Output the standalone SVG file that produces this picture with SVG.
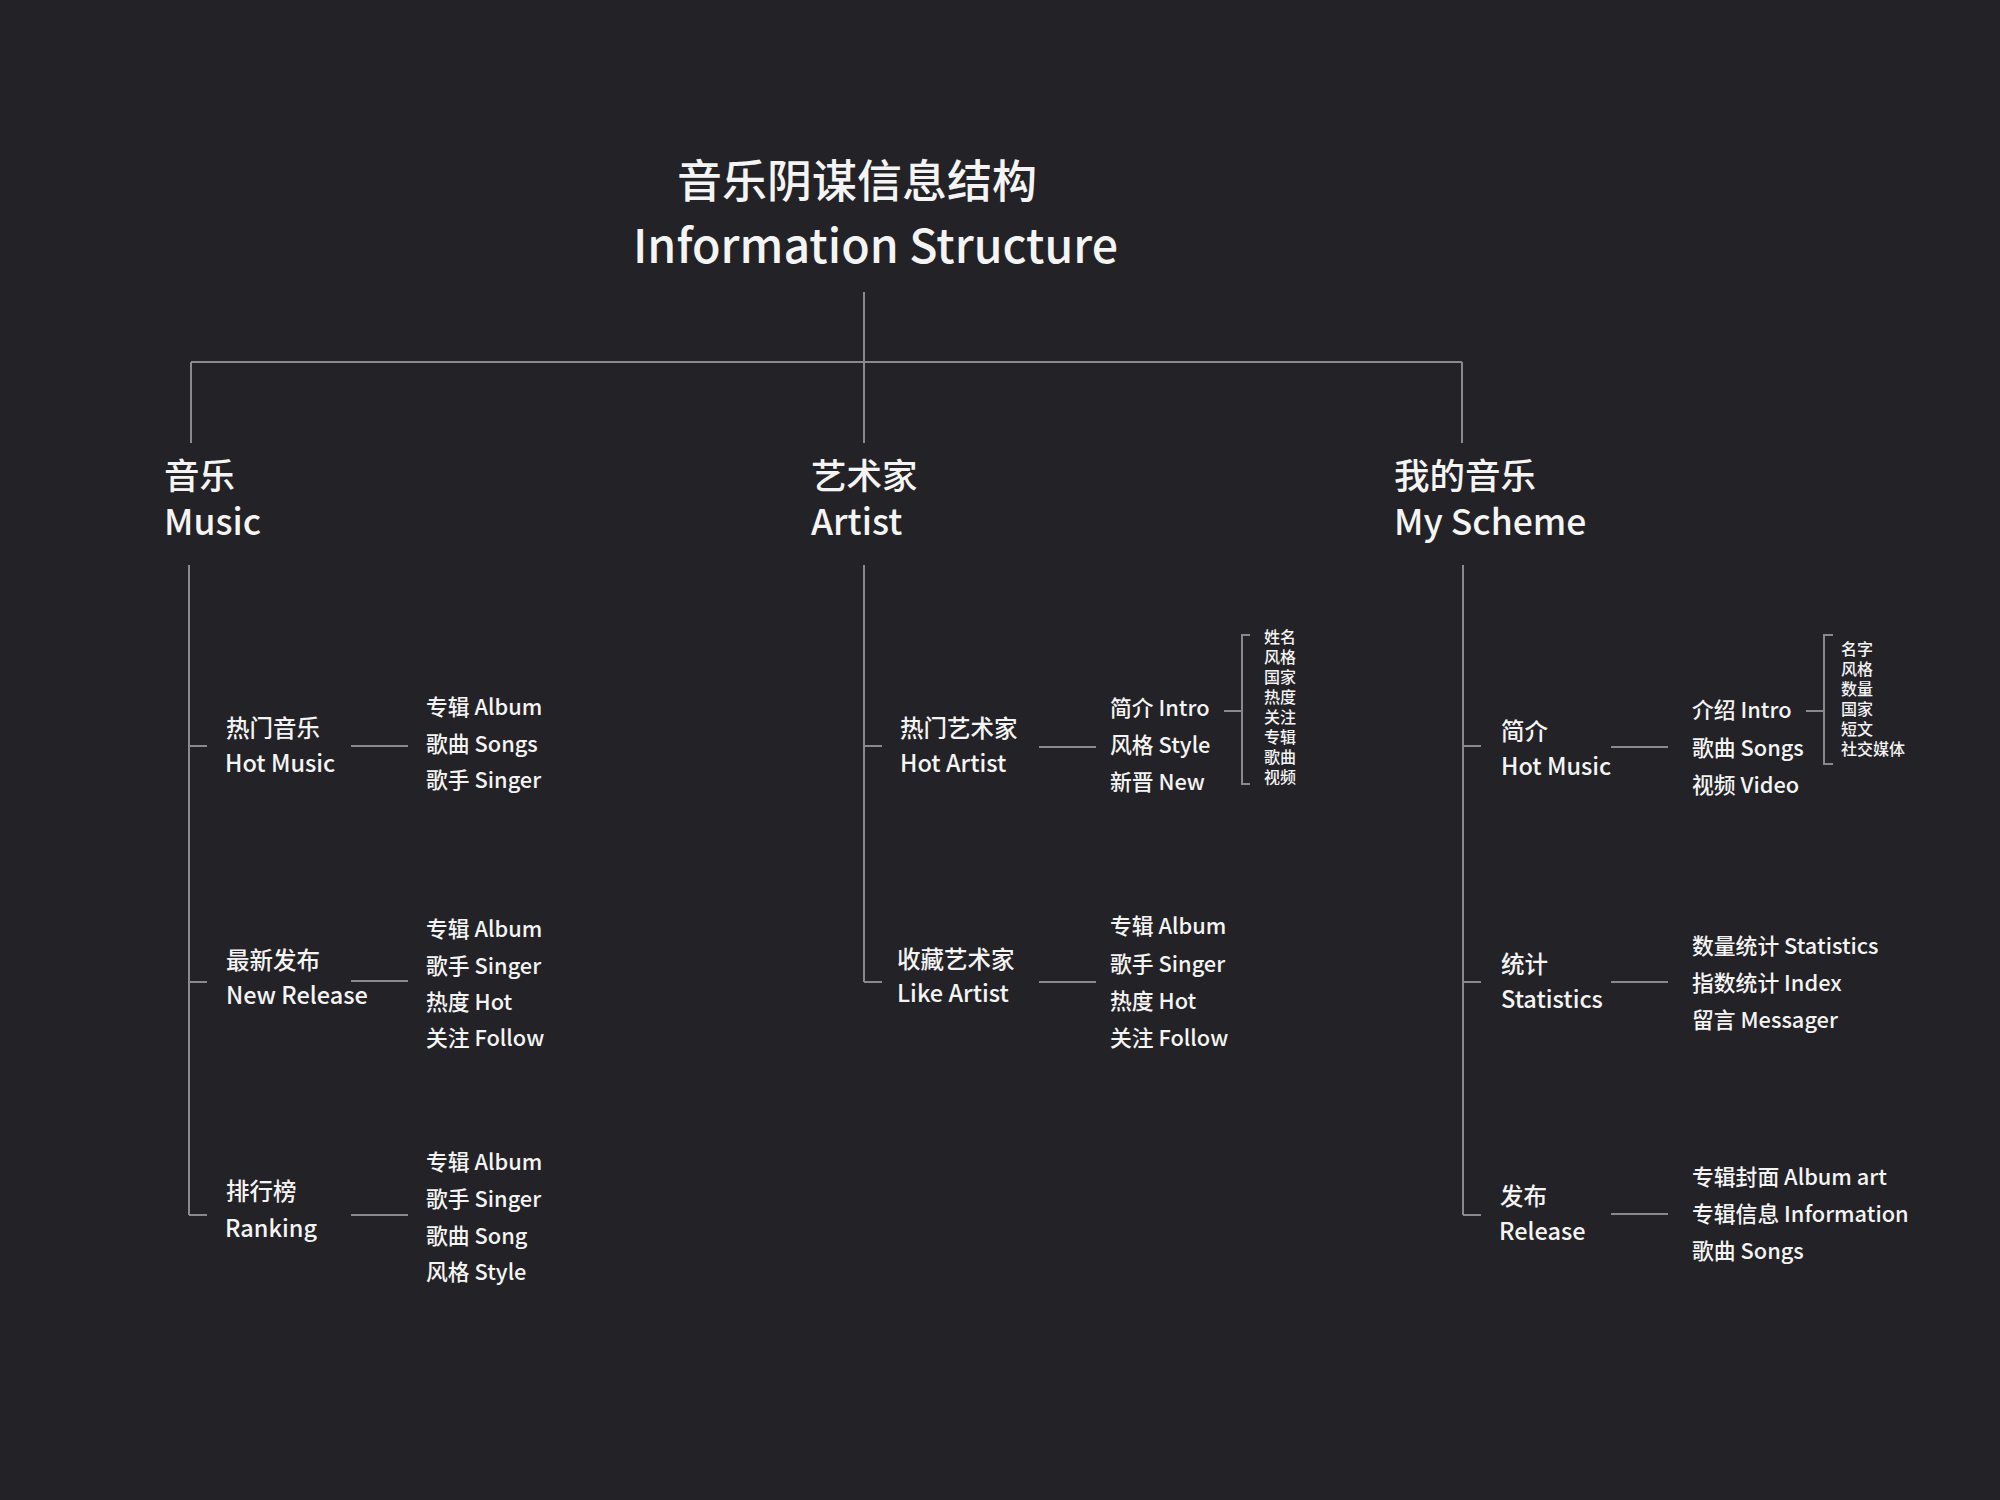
<svg xmlns="http://www.w3.org/2000/svg" width="2000" height="1500" viewBox="0 0 2000 1500">
<style>
text{font-family:"Noto Sans CJK SC","Noto Sans",sans-serif;fill:#f4f4f4;font-weight:500}
.t1{font-size:45px}
.t2{font-size:46.5px}
.h{font-size:35.5px}
.n{font-size:23.5px}
.s{font-size:21.8px}
.x{font-size:16px}
.ln{stroke:#8a8a8a;stroke-width:2;fill:none}
</style>
<rect width="2000" height="1500" fill="#232227"/>
<g id="connectors" class="ln">
<path d="M864 292V362M191 362H1462M191 362V443M864 362V443M1462 362V443"/>
<path d="M189 565V1215M189 746H207M189 982H207M189 1215H207"/>
<path d="M351 746H408M351 981H408M351 1215H408"/>
<path d="M864 565V982M864 746H882M864 982H882"/>
<path d="M1039 747H1096M1039 982H1096"/>
<path d="M1224 711H1242M1250 635H1242V784H1250"/>
<path d="M1463 565V1215M1463 746H1481M1463 982H1481M1463 1215H1481"/>
<path d="M1611 747H1668M1611 982H1668M1611 1214H1668"/>
<path d="M1806 711H1824M1833 635H1824V764H1833"/>
</g>
<g id="title">
<text class="t1" x="677" y="198">音乐阴谋信息结构</text>
<text class="t2" x="633" y="263">Information Structure</text>
</g>
<g id="music">
<text class="h" x="164" y="489">音乐</text>
<text class="h" x="164" y="535">Music</text>
</g>
<g id="artist">
<text class="h" x="811" y="489">艺术家</text>
<text class="h" x="811" y="535">Artist</text>
</g>
<g id="myscheme">
<text class="h" x="1394" y="489">我的音乐</text>
<text class="h" x="1394" y="535">My Scheme</text>
</g>
<g id="hot-music">
<text class="n" x="226" y="737">热门音乐</text>
<text class="n" x="225" y="772">Hot Music</text>
</g>
<g id="hot-music-items">
<text class="s" x="426" y="715">专辑 Album</text>
<text class="s" x="426" y="752">歌曲 Songs</text>
<text class="s" x="426" y="788">歌手 Singer</text>
</g>
<g id="new-release">
<text class="n" x="226" y="969">最新发布</text>
<text class="n" x="226" y="1004">New Release</text>
</g>
<g id="new-release-items">
<text class="s" x="426" y="937">专辑 Album</text>
<text class="s" x="426" y="974">歌手 Singer</text>
<text class="s" x="426" y="1010">热度 Hot</text>
<text class="s" x="426" y="1046">关注 Follow</text>
</g>
<g id="ranking">
<text class="n" x="226" y="1200">排行榜</text>
<text class="n" x="225" y="1237">Ranking</text>
</g>
<g id="ranking-items">
<text class="s" x="426" y="1170">专辑 Album</text>
<text class="s" x="426" y="1207">歌手 Singer</text>
<text class="s" x="426" y="1244">歌曲 Song</text>
<text class="s" x="426" y="1280">风格 Style</text>
</g>
<g id="hot-artist">
<text class="n" x="900" y="737">热门艺术家</text>
<text class="n" x="900" y="772">Hot Artist</text>
</g>
<g id="hot-artist-items">
<text class="s" x="1110" y="716">简介 Intro</text>
<text class="s" x="1110" y="753">风格 Style</text>
<text class="s" x="1110" y="790">新晋 New</text>
</g>
<g id="intro-details">
<text class="x" x="1264" y="643">姓名</text>
<text class="x" x="1264" y="663">风格</text>
<text class="x" x="1264" y="683">国家</text>
<text class="x" x="1264" y="703">热度</text>
<text class="x" x="1264" y="723">关注</text>
<text class="x" x="1264" y="743">专辑</text>
<text class="x" x="1264" y="763">歌曲</text>
<text class="x" x="1264" y="783">视频</text>
</g>
<g id="like-artist">
<text class="n" x="897" y="968">收藏艺术家</text>
<text class="n" x="897" y="1002">Like Artist</text>
</g>
<g id="like-artist-items">
<text class="s" x="1110" y="934">专辑 Album</text>
<text class="s" x="1110" y="972">歌手 Singer</text>
<text class="s" x="1110" y="1009">热度 Hot</text>
<text class="s" x="1110" y="1046">关注 Follow</text>
</g>
<g id="profile">
<text class="n" x="1501" y="740">简介</text>
<text class="n" x="1501" y="775">Hot Music</text>
</g>
<g id="profile-items">
<text class="s" x="1692" y="718">介绍 Intro</text>
<text class="s" x="1692" y="756">歌曲 Songs</text>
<text class="s" x="1692" y="793">视频 Video</text>
</g>
<g id="profile-details">
<text class="x" x="1841" y="655">名字</text>
<text class="x" x="1841" y="675">风格</text>
<text class="x" x="1841" y="695">数量</text>
<text class="x" x="1841" y="715">国家</text>
<text class="x" x="1841" y="735">短文</text>
<text class="x" x="1841" y="755">社交媒体</text>
</g>
<g id="statistics">
<text class="n" x="1501" y="973">统计</text>
<text class="n" x="1501" y="1008">Statistics</text>
</g>
<g id="statistics-items">
<text class="s" x="1692" y="954">数量统计 Statistics</text>
<text class="s" x="1692" y="991">指数统计 Index</text>
<text class="s" x="1692" y="1028">留言 Messager</text>
</g>
<g id="release">
<text class="n" x="1500" y="1205">发布</text>
<text class="n" x="1499" y="1240">Release</text>
</g>
<g id="release-items">
<text class="s" x="1692" y="1185">专辑封面 Album art</text>
<text class="s" x="1692" y="1222">专辑信息 Information</text>
<text class="s" x="1692" y="1259">歌曲 Songs</text>
</g>
</svg>
